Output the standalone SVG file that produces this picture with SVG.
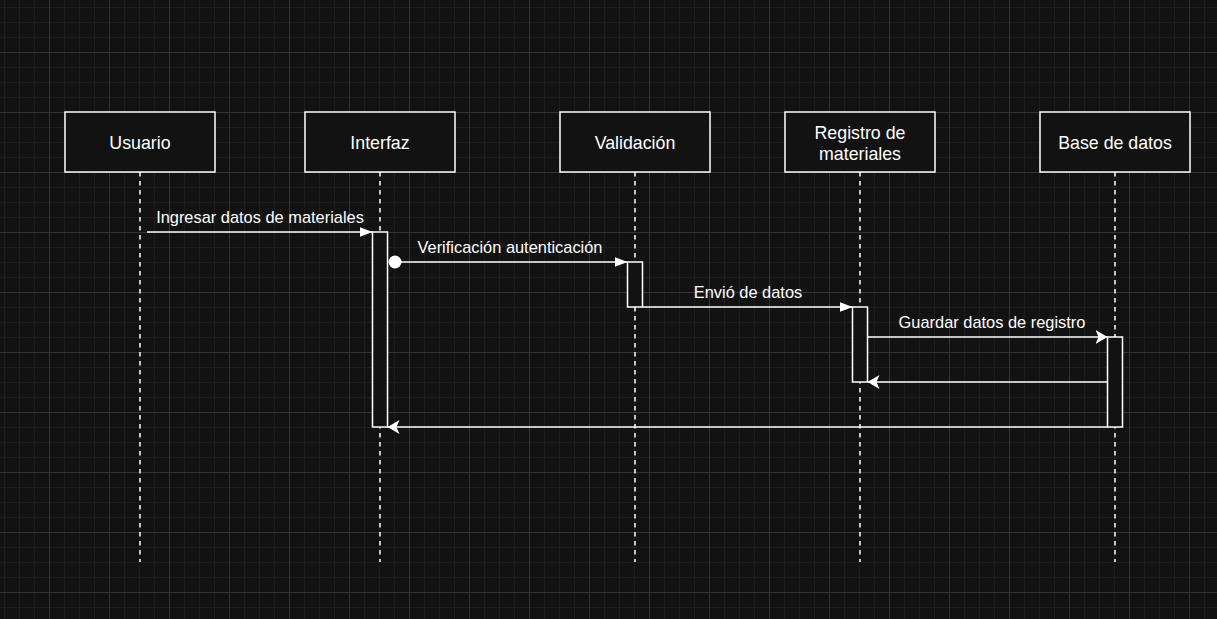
<svg xmlns="http://www.w3.org/2000/svg" width="1217" height="619" viewBox="0 0 1217 619">
<defs>
<pattern id="grid" patternUnits="userSpaceOnUse" x="49" y="52" width="60" height="60">
<path d="M15.5 0V60M30.5 0V60M45.5 0V60M0 15.5H60M0 30.5H60M0 45.5H60" stroke="#1d1d1d" stroke-width="1" fill="none"/>
<path d="M0.5 0V60M0 0.5H60" stroke="#343434" stroke-width="1" fill="none"/>
</pattern>
<marker id="arr" viewBox="0 0 12 14" refX="12" refY="7" markerWidth="12" markerHeight="14" markerUnits="userSpaceOnUse" orient="auto">
<path d="M0 0L12 7L0 14L3 7Z" fill="#ffffff"/>
</marker>
<marker id="blk" viewBox="0 0 13 10" refX="13" refY="5" markerWidth="13" markerHeight="10" markerUnits="userSpaceOnUse" orient="auto">
<path d="M0 0L13 5L0 10Z" fill="#ffffff"/>
</marker>
</defs>
<style>
.node rect{fill:#121212;stroke:#ffffff;stroke-width:1.5}
.node text{fill:#ffffff;font-family:"Liberation Sans",Arial,sans-serif;font-size:17.8px;text-anchor:middle}
.life{stroke:#ffffff;stroke-width:1.5;stroke-dasharray:4.5 4.5;fill:none}
.act{fill:#121212;stroke:#ffffff;stroke-width:1.5}
.msg{stroke:#ffffff;stroke-width:1.5;fill:none}
.lbl{fill:#ffffff;font-family:"Liberation Sans",Arial,sans-serif;font-size:16.4px;text-anchor:middle}
</style>
<rect width="1217" height="619" fill="#121212"/>
<rect width="1217" height="619" fill="url(#grid)"/>

<g id="lifelines">
<line class="life" x1="140" y1="172" x2="140" y2="562"/>
<line class="life" x1="380" y1="172" x2="380" y2="562"/>
<line class="life" x1="635" y1="172" x2="635" y2="562"/>
<line class="life" x1="860" y1="172" x2="860" y2="562"/>
<line class="life" x1="1115" y1="172" x2="1115" y2="562"/>
</g>

<g id="node-usuario" class="node"><rect x="65" y="112" width="150" height="60"/><text x="140" y="148.5">Usuario</text></g>
<g id="node-interfaz" class="node"><rect x="305" y="112" width="150" height="60"/><text x="380" y="148.5">Interfaz</text></g>
<g id="node-validacion" class="node"><rect x="560" y="112" width="150" height="60"/><text x="635" y="148.5">Validación</text></g>
<g id="node-registro" class="node"><rect x="785" y="112" width="150" height="60"/><text x="860" y="139">Registro de</text><text x="860" y="159.5">materiales</text></g>
<g id="node-base" class="node"><rect x="1040" y="112" width="150" height="60"/><text x="1115" y="148.5">Base de datos</text></g>

<g id="activations">
<rect id="act-interfaz" class="act" x="372.5" y="232" width="15" height="195"/>
<rect id="act-validacion" class="act" x="627.5" y="262" width="15" height="45"/>
<rect id="act-registro" class="act" x="852.5" y="307" width="15" height="75"/>
<rect id="act-base" class="act" x="1107.5" y="337" width="15" height="90"/>
</g>

<g id="connectors">
<line class="msg" x1="147" y1="232" x2="372.5" y2="232" marker-end="url(#blk)"/>
<circle cx="395" cy="262" r="6.5" fill="#ffffff"/>
<line class="msg" x1="395" y1="262" x2="627.5" y2="262" marker-end="url(#blk)"/>
<line class="msg" x1="642.5" y1="307" x2="852.5" y2="307" marker-end="url(#blk)"/>
<line class="msg" x1="867.5" y1="337" x2="1107.5" y2="337" marker-end="url(#arr)"/>
<line class="msg" x1="1107.5" y1="382" x2="867.5" y2="382" marker-end="url(#arr)"/>
<line class="msg" x1="1107.5" y1="427" x2="387.5" y2="427" marker-end="url(#arr)"/>
<text class="lbl" x="260" y="223">Ingresar datos de materiales</text>
<text class="lbl" x="510" y="253">Verificación autenticación</text>
<text class="lbl" x="748" y="298">Envió de datos</text>
<text class="lbl" x="992" y="328">Guardar datos de registro</text>
</g>
</svg>
